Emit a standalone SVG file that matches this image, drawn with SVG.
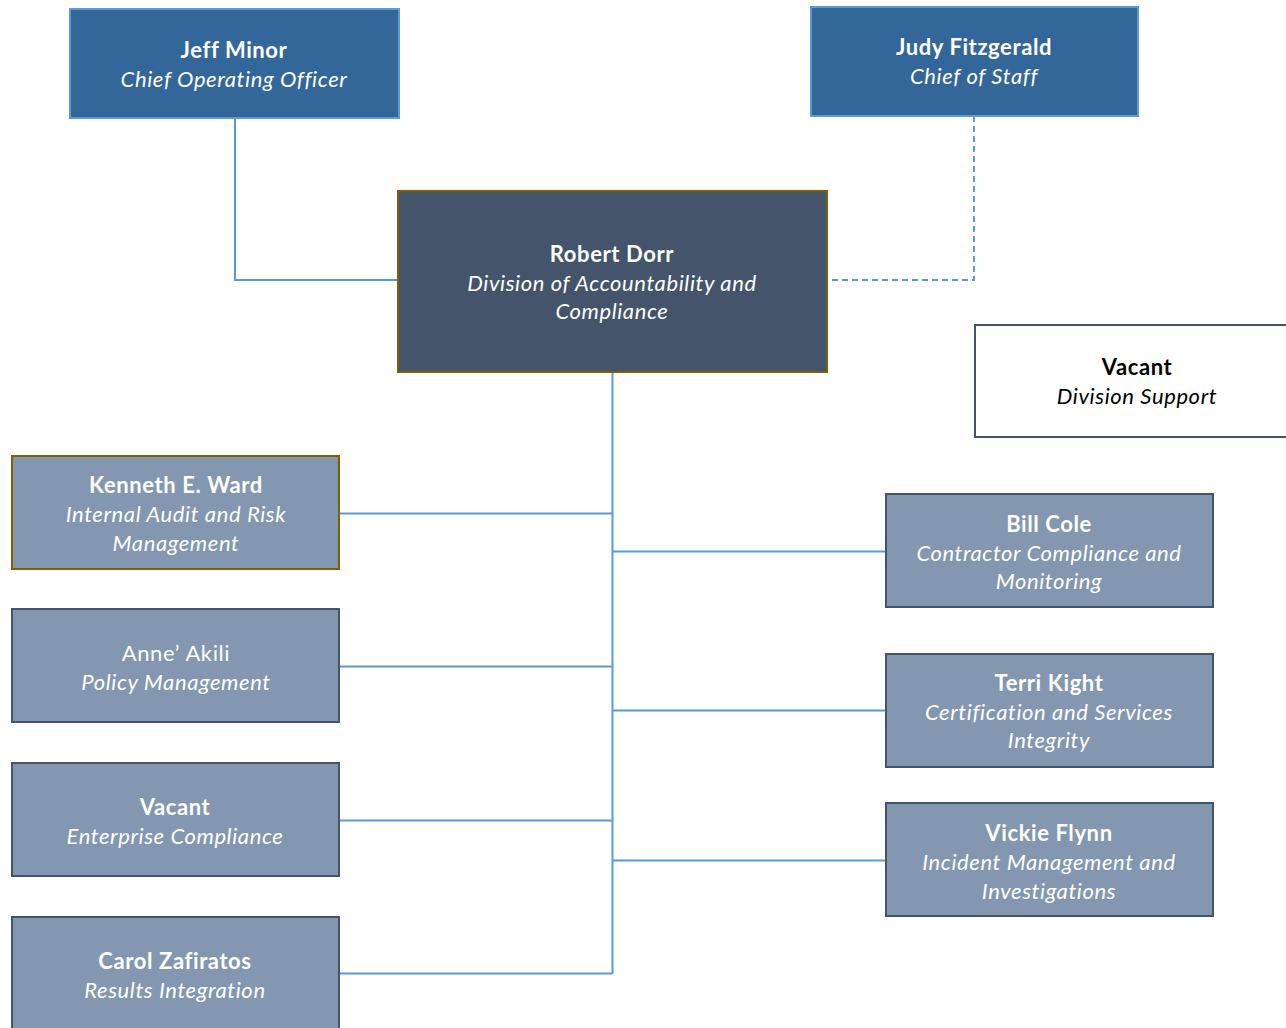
<svg xmlns="http://www.w3.org/2000/svg" width="1286" height="1028" viewBox="0 0 1286 1028">
<style>
text{font-family:Lato,"Open Sans","Liberation Sans",sans-serif;font-size:22px;letter-spacing:0.6px;text-anchor:middle;fill:#fff}
.n{font-weight:bold}
.t{font-style:italic}
.k{fill:#000}
.top{fill:#336699;stroke:#5B9BD5;stroke-width:2}
.main{fill:#44546A;stroke:#7F6000;stroke-width:2}
.sub{fill:#8497B0;stroke:#44546A;stroke-width:2}
.gold{fill:#8497B0;stroke:#7F6000;stroke-width:2}
.white{fill:#fff;stroke:#44546A;stroke-width:2}
.c{fill:none;stroke:#5B9BD5;stroke-width:2}
</style>
<g id="connectors">
<polyline class="c" points="235,118 235,280 398,280"/>
<polyline class="c" points="974,116 974,280 827,280" stroke-dasharray="6,4"/>
<line class="c" x1="612.5" y1="372" x2="612.5" y2="974" stroke-width="3"/>
<line class="c" x1="339" y1="513.5" x2="612" y2="513.5"/>
<line class="c" x1="339" y1="666.5" x2="612" y2="666.5"/>
<line class="c" x1="339" y1="820.5" x2="612" y2="820.5"/>
<line class="c" x1="339" y1="973.5" x2="612" y2="973.5"/>
<line class="c" x1="612" y1="551.5" x2="886" y2="551.5"/>
<line class="c" x1="612" y1="710.5" x2="886" y2="710.5"/>
<line class="c" x1="612" y1="860.5" x2="886" y2="860.5"/>
</g>
<g id="jeff">
<rect class="top" x="70" y="9" width="329" height="109"/>
<text class="n" x="234" y="58">Jeff Minor</text>
<text class="t" x="234" y="87">Chief Operating Officer</text>
</g>
<g id="judy">
<rect class="top" x="811" y="7" width="327" height="109"/>
<text class="n" x="974" y="55">Judy Fitzgerald</text>
<text class="t" x="974" y="84">Chief of Staff</text>
</g>
<g id="robert">
<rect class="main" x="398" y="191" width="429" height="181"/>
<text class="n" x="612" y="262">Robert Dorr</text>
<text class="t" x="612" y="291">Division of Accountability and</text>
<text class="t" x="612" y="319">Compliance</text>
</g>
<g id="vacant-support">
<rect class="white" x="975" y="325" width="320" height="112"/>
<text class="n k" x="1137" y="375">Vacant</text>
<text class="t k" x="1137" y="404">Division Support</text>
</g>
<g id="kenneth">
<rect class="gold" x="12" y="456" width="327" height="113"/>
<text class="n" x="176" y="493">Kenneth E. Ward</text>
<text class="t" x="176" y="522">Internal Audit and Risk</text>
<text class="t" x="176" y="551">Management</text>
</g>
<g id="anne">
<rect class="sub" x="12" y="609" width="327" height="113"/>
<text x="176" y="661" letter-spacing="1.2">Anne’ Akili</text>
<text class="t" x="176" y="690">Policy Management</text>
</g>
<g id="vacant-enterprise">
<rect class="sub" x="12" y="763" width="327" height="113"/>
<text class="n" x="175" y="815">Vacant</text>
<text class="t" x="175" y="844">Enterprise Compliance</text>
</g>
<g id="carol">
<rect class="sub" x="12" y="917" width="327" height="120"/>
<text class="n" x="175" y="969">Carol Zafiratos</text>
<text class="t" x="175" y="998">Results Integration</text>
</g>
<g id="bill">
<rect class="sub" x="886" y="494" width="327" height="113"/>
<text class="n" x="1049" y="532">Bill Cole</text>
<text class="t" x="1049" y="561">Contractor Compliance and</text>
<text class="t" x="1049" y="589">Monitoring</text>
</g>
<g id="terri">
<rect class="sub" x="886" y="654" width="327" height="113"/>
<text class="n" x="1049" y="691">Terri Kight</text>
<text class="t" x="1049" y="720">Certification and Services</text>
<text class="t" x="1049" y="748">Integrity</text>
</g>
<g id="vickie">
<rect class="sub" x="886" y="803" width="327" height="113"/>
<text class="n" x="1049" y="841">Vickie Flynn</text>
<text class="t" x="1049" y="870">Incident Management and</text>
<text class="t" x="1049" y="899">Investigations</text>
</g>
</svg>
